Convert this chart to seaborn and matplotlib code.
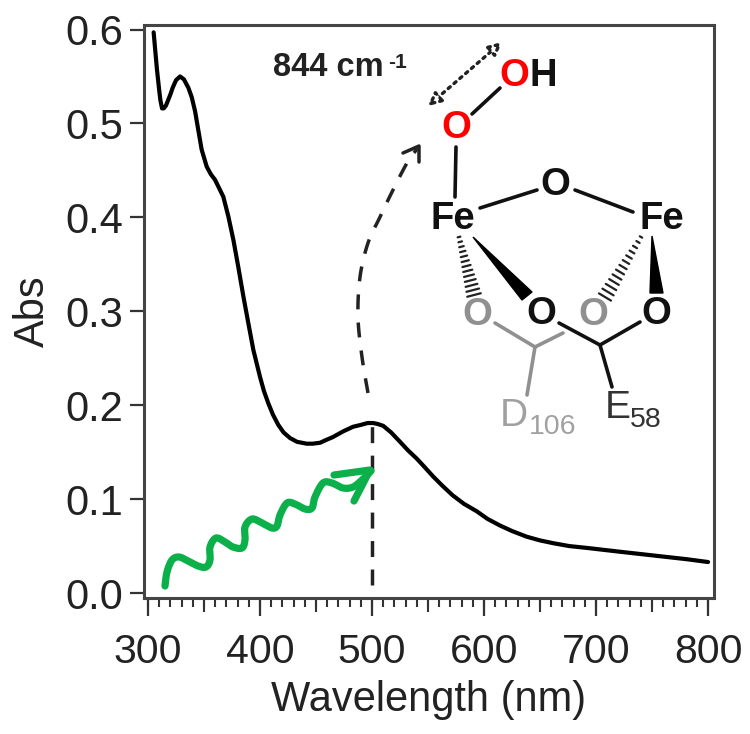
import seaborn as sns
import matplotlib.pyplot as plt
import numpy as np
import pandas as pd
from matplotlib.patches import FancyArrowPatch, Polygon

# spectrum
wavelength = [305, 306.5, 308, 310, 311, 312.5, 314, 316, 318, 320, 322, 325, 328.6, 332, 336, 339, 342, 345,
              347.9, 352.4, 356, 359.8, 367.2, 371.7, 376.2, 380.6, 385.1, 389.6, 394, 400, 403.5, 407.4, 411.5,
              416.3, 421, 426.8, 433, 441.7, 447, 453.6, 459, 465, 474, 483, 490, 496, 501, 505, 510, 517,
              525, 532, 540, 547, 554.6, 563, 572, 582, 593.5, 603, 614, 625, 638, 650, 662, 676, 692, 721,
              751, 781, 800]
absorbance = [0.597, 0.577, 0.557, 0.535, 0.525, 0.516, 0.516, 0.519, 0.525, 0.531, 0.538, 0.546, 0.55, 0.547,
              0.538, 0.528, 0.513, 0.492, 0.472, 0.454, 0.446, 0.440, 0.422, 0.401, 0.376, 0.347, 0.316, 0.287,
              0.259, 0.230, 0.215, 0.202, 0.19, 0.179, 0.171, 0.165, 0.161, 0.159, 0.159, 0.160, 0.163, 0.166,
              0.172, 0.177, 0.179, 0.181, 0.181, 0.180, 0.178, 0.171, 0.161, 0.152, 0.143, 0.134, 0.124, 0.114,
              0.104, 0.095, 0.087, 0.079, 0.072, 0.066, 0.060, 0.056, 0.053, 0.050, 0.048, 0.044, 0.040, 0.036,
              0.033]

x_ticks = [300, 400, 500, 600, 700, 800]
y_ticks = [0.0, 0.1, 0.2, 0.3, 0.4, 0.5, 0.6]

# green wavy arrow, picture pixels
wave_x = [165, 167, 172, 179, 188, 198, 206, 210, 210, 216, 225, 233, 242, 245, 245, 252, 262, 272, 277, 280,
          287, 295, 305, 312, 315, 323, 332, 343, 353, 362, 371]
wave_y = [586, 572, 560, 557, 561, 566, 567, 560, 547, 538, 542, 547, 548, 540, 527, 519, 523, 528, 526, 515,
          503, 504, 509, 508, 497, 483, 483, 488, 487, 480, 471]
head_x = [334, 370, 354]
head_y = [475, 470, 501]

# curved dashed arrow path
dash_x = [368, 362, 358, 360, 368, 380, 392, 407, 417]
dash_y = [393, 357, 317, 277, 243, 217, 192, 163, 149]


def smooth(xs, ys, n=12):
    # catmull-rom through the read points, for the hand drawn scheme only
    p = np.column_stack([xs, ys]).astype(float)
    p = np.vstack([p[0], p, p[-1]])
    out = []
    for i in range(1, len(p) - 2):
        t = np.linspace(0, 1, n, endpoint=False)[:, None]
        out.append(0.5 * (2 * p[i] + (p[i + 1] - p[i - 1]) * t
                          + (2 * p[i - 1] - 5 * p[i] + 4 * p[i + 1] - p[i + 2]) * t ** 2
                          + (3 * p[i] - p[i - 1] - 3 * p[i + 1] + p[i + 2]) * t ** 3))
    out.append(p[-1][None, :])
    out = np.vstack(out)
    return out[:, 0], out[:, 1]


sns.set_theme(style='ticks')
plt.rcParams['font.family'] = ['Liberation Sans', 'DejaVu Sans']

fig = plt.figure(figsize=(7.5, 7.34), dpi=100)
ax = fig.add_axes([144 / 750, 1 - 598 / 734, 570 / 750, 573 / 734])

df = pd.DataFrame({'Wavelength': wavelength, 'Abs': absorbance})
sns.lineplot(data=df, x='Wavelength', y='Abs', color='black', lw=3, ax=ax)

ax.set_xlim(296.4, 805.3)
ax.set_ylim(-0.0053, 0.6048)
ax.set_xticks(x_ticks)
ax.set_yticks(y_ticks)
ax.set_xticklabels([str(t) for t in x_ticks])
ax.set_yticklabels([f'{t:.1f}' for t in y_ticks])
ax.tick_params(axis='y', which='major', labelsize=30, length=10, width=1.6, color='#333333', labelcolor='#222222', pad=5)
ax.tick_params(axis='x', which='major', labelsize=29.5, length=13, width=1.6, color='#333333', labelcolor='#222222', pad=12)
# 10 nm and 50 nm ticks below the axis, sized in axes fractions
trans = ax.get_xaxis_transform()
ax.vlines(np.arange(300, 801, 10), -9 / 573, 0, transform=trans, clip_on=False, color='#333333', lw=1.5)
ax.vlines(np.arange(350, 801, 100), -14 / 573, 0, transform=trans, clip_on=False, color='#333333', lw=1.5)
ax.set_xlabel('Wavelength (nm)', fontsize=30, color='#222222', labelpad=7)
ax.set_ylabel('Abs', fontsize=30, color='#222222', labelpad=9)
for s in ax.spines.values():
    s.set_visible(True)
    s.set_linewidth(2.2)
    s.set_color('#444444')

# scheme layer in picture pixels
ov = fig.add_axes([0, 0, 1, 1], facecolor='none')
ov.set_xlim(0, 750)
ov.set_ylim(734, 0)
ov.axis('off')

ov.plot([372, 372], [585, 425], color='#222222', lw=2.5, dashes=(4.6, 3.6))
wx, wy = smooth(wave_x, wave_y)
ov.plot(wx, wy, color='#0bb04a', lw=5.2, solid_capstyle='round', solid_joinstyle='round')
ov.plot(head_x, head_y, color='#0bb04a', lw=5.2, solid_capstyle='round', solid_joinstyle='round')
dx, dy = smooth(dash_x, dash_y)
ov.plot(dx, dy, color='#222222', lw=2.5, dashes=(4.3, 3.8))
ov.plot([403, 419, 419], [153, 146, 162], color='#222222', lw=2.5)
ov.add_patch(FancyArrowPatch((428, 106), (502, 42), arrowstyle='<|-|>', mutation_scale=19, lw=2.4, ls=(0, (0.8, 1.5)),
                             edgecolor='#222222', facecolor='white', shrinkA=0, shrinkB=0))

ov.text(273, 68, '844 cm', fontsize=23.5, fontweight='bold', color='#222222', ha='left', va='center')
ov.text(388, 62, '-1', fontsize=15, fontweight='bold', color='#222222', ha='left', va='center')


def atom(x, y, s, color='black', size=27.5):
    ov.text(x, y, s, fontsize=size, color=color, ha='center', va='center', fontweight='bold')


def bond(xs, ys, color='#111111', lw=2.6):
    ov.plot(xs, ys, color=color, lw=lw, solid_capstyle='round')


def hashed(x0, y0, x1, y1, color='#222222', n=13, w=7):
    dx, dy = x1 - x0, y1 - y0
    nx, ny = -dy / np.hypot(dx, dy), dx / np.hypot(dx, dy)
    for t in np.linspace(0, 1, n):
        h = w * (0.2 + 0.8 * t)
        ov.plot([x0 + dx * t - nx * h, x0 + dx * t + nx * h], [y0 + dy * t - ny * h, y0 + dy * t + ny * h], color=color, lw=1.6)


atom(514, 76, 'O', 'red')
atom(543, 76, 'H', '#111111')
atom(456, 128, 'O', 'red')
atom(555, 185, 'O', '#111111')
atom(453, 219, 'Fe', '#111111')
atom(662, 219, 'Fe', '#111111')
atom(477, 315, 'O', '#909090')
atom(541, 314, 'O', '#111111')
atom(593, 315, 'O', '#909090')
atom(656, 314, 'O', '#111111')

bond([472, 500], [114, 88])
bond([456, 455], [147, 197])
bond([480, 537], [208, 190])
bond([575, 633], [190, 212])
hashed(459, 237, 474, 295)
hashed(641, 237, 605, 297)
ov.add_patch(Polygon([[473, 237], [532, 292], [522, 300]], closed=True, color='black'))
ov.add_patch(Polygon([[652, 236], [663, 293], [650, 293]], closed=True, color='black'))

bond([495, 535], [323, 347], '#909090')
bond([535, 563], [347, 333], '#909090')
bond([535, 527], [347, 395], '#909090')
bond([559, 600], [323, 345])
bond([600, 640], [345, 322])
bond([600, 612], [345, 387])

ov.text(500, 416, 'D', fontsize=28, color='#a0a0a0', ha='left', va='center')
ov.text(529, 427, '106', fontsize=20.5, color='#a0a0a0', ha='left', va='center')
ov.text(605, 408, 'E', fontsize=28, color='#333333', ha='left', va='center')
ov.text(630, 420, '58', fontsize=20.5, color='#333333', ha='left', va='center')

fig.savefig('out.png', dpi=100, facecolor='white')
